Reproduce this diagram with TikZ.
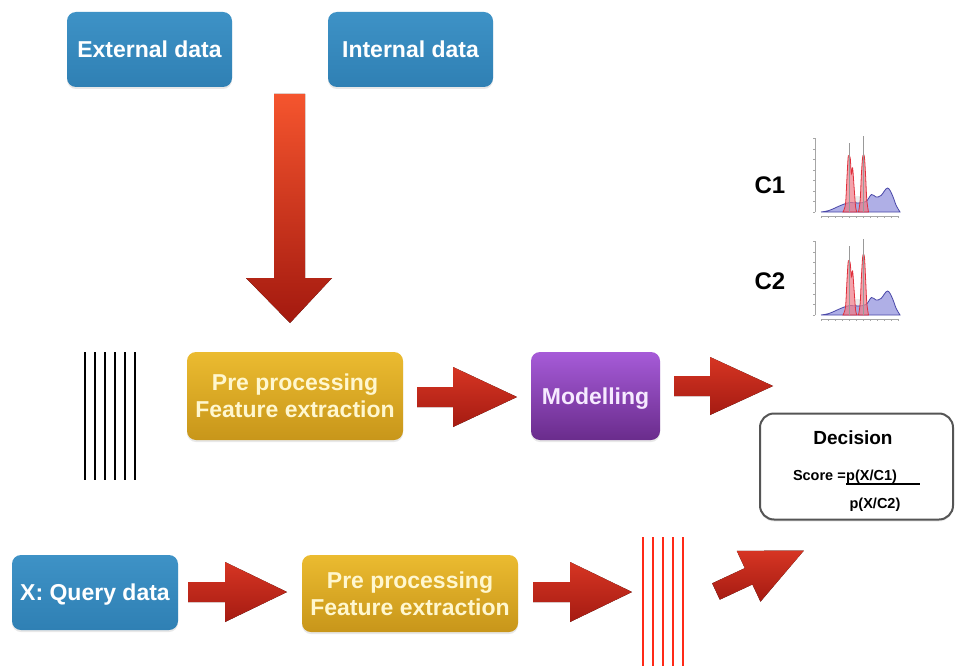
\documentclass[tikz,border=0pt]{standalone}
\usepackage{fontspec}
\setmainfont{Liberation Sans}
\usetikzlibrary{shadows}

\definecolor{blueT}{HTML}{3E92C6}
\definecolor{blueB}{HTML}{2F80B4}
\definecolor{goldT}{HTML}{EBBB30}
\definecolor{goldB}{HTML}{C8961A}
\definecolor{goldText}{HTML}{FFF7CF}
\definecolor{purpT}{HTML}{A65BD8}
\definecolor{purpB}{HTML}{6A2C8C}
\definecolor{purpText}{HTML}{F6EAFF}
\definecolor{arrT}{HTML}{D63523}
\definecolor{arrB}{HTML}{A51B12}
\definecolor{bigT}{HTML}{F5552E}
\definecolor{bigB}{HTML}{A3190F}
\definecolor{frameGray}{HTML}{555555}
\definecolor{distBlue}{HTML}{7A7AD6}
\definecolor{distBlueLine}{HTML}{4A48A8}
\definecolor{distRed}{HTML}{F07A86}
\definecolor{distRedLine}{HTML}{E0303C}
\definecolor{lineRed}{HTML}{FF2A18}

\tikzset{
  boxbase/.style={rounded corners=9pt, draw=none, inner sep=0pt, align=center,
    font=\fontsize{23}{27}\selectfont\bfseries,
    drop shadow={opacity=0.18, shadow xshift=0pt, shadow yshift=-2pt}},
  databox/.style={boxbase, top color=blueT, bottom color=blueB, text=white, text depth=0pt},
  prepbox/.style={boxbase, top color=goldT, bottom color=goldB, text=goldText},
  modelbox/.style={boxbase, top color=purpT, bottom color=purpB, text=purpText, text depth=0pt},
  fatred/.style={top color=arrT, bottom color=arrB, draw=none},
  classlabel/.style={font=\fontsize{24}{28}\selectfont\bfseries, inner sep=0pt},
  axisline/.style={draw=gray!70, line width=0.5pt},
  bluedist/.style={fill=distBlue, fill opacity=0.6, draw=distBlueLine, line width=0.8pt},
  reddist/.style={fill=distRed, fill opacity=0.7, draw=distRedLine, line width=0.8pt},
  spike/.style={draw=gray!80, line width=1pt},
}

% horizontal block arrow: tail x, head-base x, tip x, centre y, shaft half width, head half width
\newcommand{\hblockarrow}[6]{%
  \fill[fatred] (#1,{#4-#5}) -- (#2,{#4-#5}) -- (#2,{#4-#6}) -- (#3,#4)
    -- (#2,{#4+#6}) -- (#2,{#4+#5}) -- (#1,{#4+#5}) -- cycle;}

% small density plot with its origin at the lower left of the axes
\newcommand{\densityplot}[3]{%
  \begin{scope}[shift={#1}, yscale=-1]
    % axes and ticks
    \draw[axisline] (0,0) -- (0,74);
    \foreach \v in {0,10.5,...,74} \draw[axisline] (0,\v) -- (-2,\v);
    \draw[axisline] (6,-4) -- (84,-4);
    \foreach \u in {6,13,...,84} \draw[axisline] (\u,-4) -- (\u,-6);
    % faint band behind the peaks
    \fill[gray!25, opacity=0.6] (40,0) rectangle (46,16);
    % broad distribution
    \filldraw[bluedist] plot[smooth, tension=0.6] coordinates
      {(6,0) (14,1.5) (21,4.5) (28,7.5) (35,9.5) (43,9) (51,10.5) (56.5,17.5)
       (61,15) (66,16.5) (72.5,24) (77.5,16.5) (81,7) (85,0)} -- cycle;
    % narrow peaks
    \filldraw[reddist] plot[smooth, tension=0.5] coordinates
      {(28,0) (30.5,8) (32,35) (33.3,#2) (35.2,#2-2) (36.3,38) (37.6,44) (39,26) (40.6,5) (42,0)} -- cycle;
    \filldraw[reddist] plot[smooth, tension=0.5] coordinates
      {(43.5,0) (45.2,12) (46.4,38) (47.8,#3) (49.4,#3-1) (50.6,36) (51.8,12) (53.5,0)} -- cycle;
    \draw[spike] (34.6,0) -- (34.6,69);
    \draw[spike] (48.8,0) -- (48.8,76);
  \end{scope}}

\begin{document}
\begin{tikzpicture}[x=1pt, y=-1pt]
  \useasboundingbox (0,0) rectangle (958,666);
  \fill[white] (0,0) rectangle (958,666);

  % data sources
  \node[databox, minimum width=165pt, minimum height=75pt] (ext) at (149.5,49.5) {External data};
  \node[databox, minimum width=165pt, minimum height=75pt] (int) at (410.5,49.5) {Internal data};

  % big downward arrow
  \fill[top color=bigT, bottom color=bigB] (274,94) -- (305,94) -- (305,278) -- (332,278)
    -- (290,323) -- (246,278) -- (274,278) -- cycle;

  % training feature vectors
  \foreach \x in {85,95,...,135} \draw[line width=2pt] (\x,352) -- (\x,480);

  % training chain
  \node[prepbox, minimum width=216pt, minimum height=88pt] (pre1) at (295,396)
    {Pre processing\\Feature extraction};
  \node[modelbox, minimum width=129pt, minimum height=88pt] (model) at (595.5,396) {Modelling};
  \hblockarrow{417}{453}{517}{397}{10}{30}
  \hblockarrow{674}{710}{773}{386}{10}{29}

  % class models
  \node[classlabel] (c1) at (770,185) {C1};
  \node[classlabel] (c2) at (770,281) {C2};
  \densityplot{(815,212)}{56}{56}
  \densityplot{(815,315)}{54}{59}

  % decision
  \node[draw=frameGray, line width=2pt, rounded corners=14pt, fill=white,
        minimum width=193pt, minimum height=106pt,
        drop shadow={opacity=0.15, shadow xshift=0pt, shadow yshift=-2pt}] (decision) at (856.5,466.5) {};
  \node[font=\fontsize{19}{22}\selectfont\bfseries] (dtitle) at (853,438) {Decision};
  \node[font=\fontsize{14.5}{17}\selectfont\bfseries, anchor=base east, inner sep=0pt] (score) at (846,480) {Score =};
  \node[font=\fontsize{14.5}{17}\selectfont\bfseries, anchor=base west, inner sep=0pt] (num) at (score.base east) {p(X/C1)};
  \node[font=\fontsize{14.5}{17}\selectfont\bfseries, anchor=base, inner sep=0pt] (den) at (875,508) {p(X/C2)};
  \draw[line width=1.4pt] (num.base west) ++(0,4) -- (920,484);

  % query chain
  \node[databox, minimum width=166pt, minimum height=75pt] (query) at (95,592.5) {X: Query data};
  \node[prepbox, minimum width=216pt, minimum height=77pt] (pre2) at (410,593.5)
    {Pre processing\\Feature extraction};
  \hblockarrow{188}{225}{287}{592}{10}{30}
  \hblockarrow{533}{570}{632}{592}{10}{30}

  % query feature vectors
  \foreach \x in {643,653,...,683} \draw[lineRed, line width=1.6pt] (\x,537) -- (\x,666);

  % slanted arrow towards the decision
  \fill[fatred, shift={(716,591.5)}, rotate=25] (0,-9) -- (36,-9) -- (36,-28) -- (97,0)
    -- (36,28) -- (36,9) -- (0,9) -- cycle;
\end{tikzpicture}
\end{document}
